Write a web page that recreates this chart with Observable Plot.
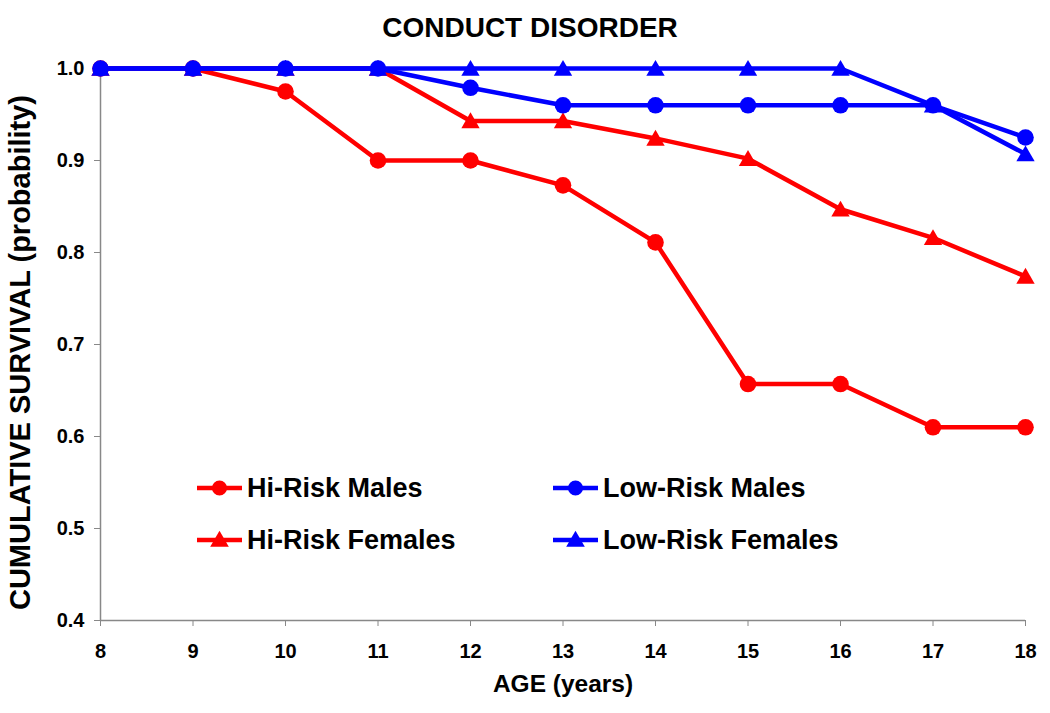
<!DOCTYPE html>
<html>
<head>
<meta charset="utf-8">
<script src="https://cdn.jsdelivr.net/npm/d3@7"></script>
<script src="https://cdn.jsdelivr.net/npm/@observablehq/plot@0.6"></script>
<style>
  html, body { margin: 0; padding: 0; background: #fff; }
  #wrap { position: relative; width: 1050px; height: 713px; font-family: "Liberation Sans", Arial, sans-serif; }
  #title { height: 48px; line-height: 56px; text-align: center; font-size: 28px; font-weight: bold; color: #000; padding-left: 10px; }
  #legend { position: absolute; left: 197px; top: 472px; display: grid; grid-template-columns: 356px 360px; row-gap: 20px; }
  .item { display: flex; align-items: center; height: 32px; font-size: 27px; font-weight: bold; color: #000; white-space: nowrap; }
  .item svg { margin-right: 5px; }
</style>
</head>
<body>
<div id="wrap">
  <div id="title">CONDUCT DISORDER</div>
  <div id="chart"></div>
  <div id="legend"></div>
</div>
<script>
const ages = [8, 9, 10, 11, 12, 13, 14, 15, 16, 17, 18];
const hiRiskMales    = [1.0, 1.0, 0.975, 0.9, 0.9, 0.873, 0.811, 0.657, 0.657, 0.61, 0.61];
const hiRiskFemales  = [1.0, 1.0, 1.0, 1.0, 0.943, 0.943, 0.924, 0.902, 0.847, 0.816, 0.774];
const lowRiskMales   = [1.0, 1.0, 1.0, 1.0, 0.979, 0.96, 0.96, 0.96, 0.96, 0.96, 0.925];
const lowRiskFemales = [1.0, 1.0, 1.0, 1.0, 1.0, 1.0, 1.0, 1.0, 1.0, 0.96, 0.907];
const seriesNames = ["Hi-Risk Males", "Hi-Risk Females", "Low-Risk Males", "Low-Risk Females"];
const seriesValues = [hiRiskMales, hiRiskFemales, lowRiskMales, lowRiskFemales];
const seriesColors = ["#ff0000", "#ff0000", "#0000ff", "#0000ff"];
const seriesSymbols = ["circle", "triangle", "circle", "triangle"];
const yTicks = [0.4, 0.5, 0.6, 0.7, 0.8, 0.9, 1.0];
const xTicks = ages;
const titleText = "CONDUCT DISORDER";
const xLabel = "AGE (years)";
const yLabel = "CUMULATIVE SURVIVAL (probability)";

const series = seriesNames.map((name, i) => ({
  name,
  color: seriesColors[i],
  symbol: seriesSymbols[i],
  data: ages.map((a, j) => ({ age: a, value: seriesValues[i][j] }))
}));

const marks = [
  Plot.ruleX([8], { stroke: "#888", strokeWidth: 1.5 }),
  Plot.ruleY([0.4], { stroke: "#888", strokeWidth: 1.5 }),
  Plot.axisY({ ticks: yTicks, tickFormat: d3.format(".1f"), tickSize: 6, tickPadding: 10, stroke: "#888", fill: "#000", fontSize: 20, fontWeight: "bold", label: null }),
  Plot.axisX({ ticks: xTicks, tickFormat: d3.format("d"), tickSize: 6, tickPadding: 17, stroke: "#888", fill: "#000", fontSize: 20, fontWeight: "bold", label: null }),
  Plot.text([yLabel], { frameAnchor: "left", dx: -80, dy: 8, rotate: -90, text: d => d, fontSize: 29, fontWeight: "bold", fill: "#000", lineAnchor: "middle", textAnchor: "middle" }),
  Plot.text([xLabel], { frameAnchor: "bottom", dy: 64, text: d => d, fontSize: 24.5, fontWeight: "bold", fill: "#000", lineAnchor: "middle", textAnchor: "middle" })
];
for (const s of series) {
  marks.push(Plot.line(s.data, { x: "age", y: "value", stroke: s.color, strokeWidth: 4.5 }));
  marks.push(Plot.dot(s.data, {
    x: "age", y: "value", fill: s.color, stroke: "none",
    symbol: s.symbol, r: s.symbol === "circle" ? 8.3 : 6.8, dy: s.symbol === "triangle" ? 2 : 0
  }));
}

const chart = Plot.plot({
  width: 1050,
  height: 665,
  marginLeft: 100,
  marginRight: 25,
  marginTop: 20,
  marginBottom: 93,
  style: { fontFamily: "'Liberation Sans', Arial, sans-serif", background: "#fff", color: "#000", overflow: "visible" },
  x: { domain: [8, 18] },
  y: { domain: [0.4, 1.0] },
  marks
});
document.getElementById("chart").appendChild(chart);

// Legend (HTML)
const legend = document.getElementById("legend");
const order = [0, 2, 1, 3];
for (const i of order) {
  const s = series[i];
  const item = document.createElement("div");
  item.className = "item";
  const svg = d3.create("svg").attr("width", 45).attr("height", 20);
  svg.append("line").attr("x1", 0).attr("x2", 45).attr("y1", 10).attr("y2", 10).attr("stroke", s.color).attr("stroke-width", 4.5);
  const sym = s.symbol === "circle" ? d3.symbolCircle : d3.symbolTriangle;
  svg.append("path").attr("d", d3.symbol(sym, s.symbol === "circle" ? 180 : 150)()).attr("transform", `translate(22.5,${s.symbol === "circle" ? 10 : 11.5})`).attr("fill", s.color);
  item.appendChild(svg.node());
  const t = document.createElement("span");
  t.textContent = s.name;
  item.appendChild(t);
  legend.appendChild(item);
}
</script>
</body>
</html>
